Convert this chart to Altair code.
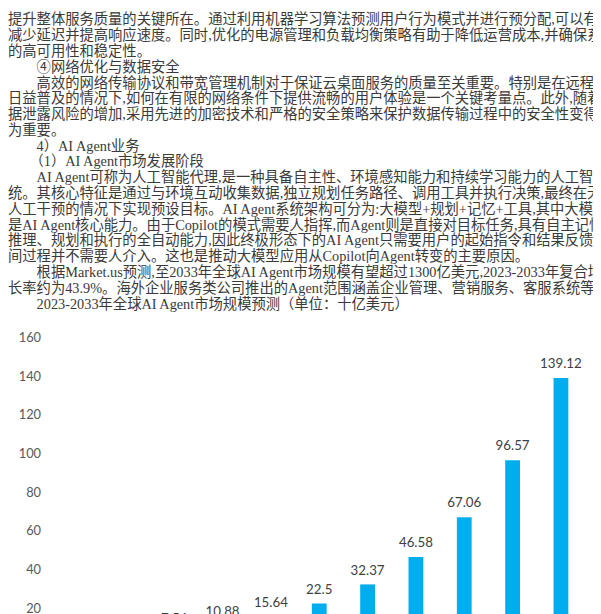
import altair as alt
import pandas as pd

# ---- data ----
years = ["2023", "2024", "2025", "2026", "2027", "2028",
         "2029", "2030", "2031", "2032", "2033"]
values = [3.66, 5.26, 7.56, 10.88, 15.64, 22.5, 32.37, 46.58, 67.06, 96.57, 139.12]
value_labels = ["3.66", "5.26", "7.56", "10.88", "15.64", "22.5",
                "32.37", "46.58", "67.06", "96.57", "139.12"]
y_ticks = [20, 40, 60, 80, 100, 120, 140, 160]

IND = "\u200b\u3000\u3000"  # paragraph indent (zero-width mark keeps it from being trimmed)

page_lines = [
    "提升整体服务质量的关键所在。通过利用机器学习算法预测用户行为模式并进行预分配,可以有效",
    "减少延迟并提高响应速度。同时,优化的电源管理和负载均衡策略有助于降低运营成本,并确保系统",
    "的高可用性和稳定性。",
    IND + "④网络优化与数据安全",
    IND + "高效的网络传输协议和带宽管理机制对于保证云桌面服务的质量至关重要。特别是在远程工作",
    "日益普及的情况下,如何在有限的网络条件下提供流畅的用户体验是一个关键考量点。此外,随着数",
    "据泄露风险的增加,采用先进的加密技术和严格的安全策略来保护数据传输过程中的安全性变得尤",
    "为重要。",
    IND + "4）AI Agent业务",
    IND + "（1）AI Agent市场发展阶段",
    IND + "AI Agent可称为人工智能代理,是一种具备自主性、环境感知能力和持续学习能力的人工智能系",
    "统。其核心特征是通过与环境互动收集数据,独立规划任务路径、调用工具并执行决策,最终在无需",
    "人工干预的情况下实现预设目标。AI Agent系统架构可分为:大模型+规划+记忆+工具,其中大模型",
    "是AI Agent核心能力。由于Copilot的模式需要人指挥,而Agent则是直接对目标任务,具有自主记忆、",
    "推理、规划和执行的全自动能力,因此终极形态下的AI Agent只需要用户的起始指令和结果反馈,中",
    "间过程并不需要人介入。这也是推动大模型应用从Copilot向Agent转变的主要原因。",
    IND + "根据Market.us预测,至2033年全球AI Agent市场规模有望超过1300亿美元,2023-2033年复合增",
    "长率约为43.9%。海外企业服务类公司推出的Agent范围涵盖企业管理、营销服务、客服系统等。",
    IND + "2023-2033年全球AI Agent市场规模预测（单位：十亿美元）",
]

df = pd.DataFrame({"year": years, "value": values, "label": value_labels})

base = alt.Chart(df).encode(
    x=alt.X("year:N", sort=years, axis=None,
            scale=alt.Scale(paddingInner=0, paddingOuter=0)),
    y=alt.Y("value:Q",
            scale=alt.Scale(domain=[19.18, 160], nice=False, zero=False),
            axis=alt.Axis(values=y_ticks, title=None, grid=False, domain=False,
                          ticks=False, labelPadding=13, labelFontSize=13,
                          labelFont="Lato", labelColor="#595959")),
)

bars = base.mark_bar(size=15, color="#00AEEF")
labels = base.mark_text(baseline="alphabetic", dy=-10, font="Lato",
                        fontSize=13.5, color="#404040").encode(text="label:N")

chart = (bars + labels).properties(
    width=539,
    height=276,
    title=alt.TitleParams(
        text=page_lines,
        anchor="start",
        frame="group",
        dx=-46,
        offset=9,
        baseline="alphabetic",
        lineHeight=16,
        font="Liberation Serif, Noto Sans CJK SC",
        fontSize=14.5,
        fontWeight="normal",
        color="#3a3a3a",
    ),
).configure(
    autosize=alt.AutoSizeParams(type="none"),
    padding={"left": 46, "top": 330, "right": 8, "bottom": 0},
    background="white",
).configure_view(stroke=None)

chart.save("out.html", embed_options={"renderer": "svg", "actions": False})
